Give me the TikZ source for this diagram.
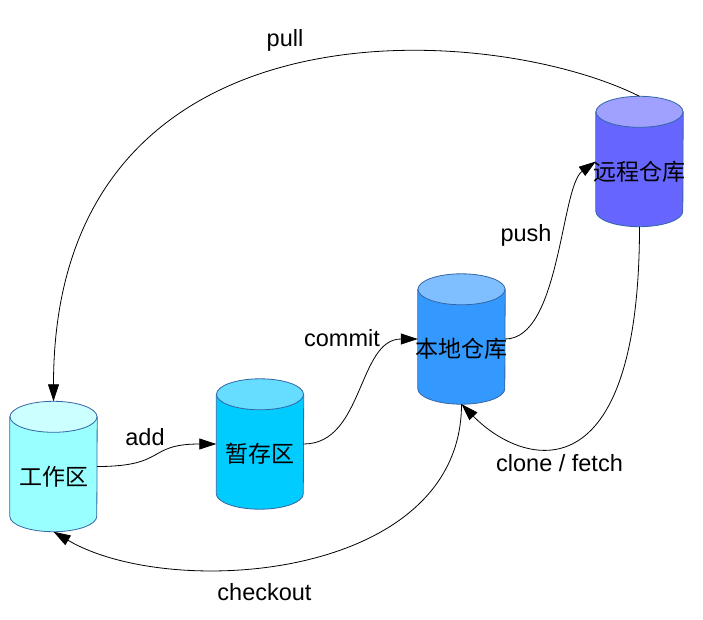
\documentclass[tikz,border=0pt]{standalone}
\usepackage{fontspec}
\setmainfont{Liberation Sans}
\newfontfamily\cjk{Noto Sans CJK SC}
\usepackage{tikz}
\usetikzlibrary{backgrounds,arrows.meta}
\definecolor{rimblue}{HTML}{3465A4}
\definecolor{workbody}{HTML}{99FFFF}
\definecolor{worktop}{HTML}{CCFFFF}
\definecolor{stagebody}{HTML}{00CCFF}
\definecolor{stagetop}{HTML}{66DDFF}
\definecolor{localbody}{HTML}{3399FF}
\definecolor{localtop}{HTML}{80BFFF}
\definecolor{remotebody}{HTML}{6666FF}
\definecolor{remotetop}{HTML}{A0A0FF}
\newcommand{\repofont}{\cjk\fontsize{23}{28}\selectfont}
\newcommand{\repodrum}[3]{%
    \filldraw[fill=#2,draw=rimblue,line width=0.8pt]
        ([yshift=-15.5pt]#1.north west) -- ([yshift=15.5pt]#1.south west)
        arc[start angle=180,end angle=360,x radius=43.5pt,y radius=15.5pt]
        -- ([yshift=-15.5pt]#1.north east) -- cycle;
    \filldraw[fill=#3,draw=rimblue,line width=0.8pt]
        ([yshift=-15.5pt]#1.north) ellipse[x radius=43.5pt,y radius=15.5pt];
}

\begin{document}
\begin{tikzpicture}[x=1pt,y=-1pt,
    repo/.style={minimum width=87pt,minimum height=130pt,inner sep=0pt},
    flow/.style={line width=0.8pt,-{Triangle[length=17pt,width=11pt]}},
    cmd/.style={anchor=base,font=\fontsize{23.5}{28}\selectfont}]
            \useasboundingbox (0,0) rectangle (703,620);

            \node[repo,label={[font=\repofont,yshift=-10pt]center:工作区}] (work) at (53.5,466.5) {};
            \node[repo,label={[font=\repofont,yshift=-10pt]center:暂存区}] (stage) at (260,444) {};
            \node[repo,label={[font=\repofont,yshift=-10pt]center:本地仓库}] (local) at (461.5,339) {};
            \node[repo,label={[font=\repofont,yshift=-10pt]center:远程仓库}] (remote) at (639.5,161.5) {};

            \draw[flow] (work.east) .. controls +(70,0) and +(-70,0) .. (stage.west);
            \draw[flow] (stage.east) .. controls +(60,0) and +(-60,0) .. (local.west);
            \draw[flow] (local.east) .. controls +(55,0) and +(-35,25) .. (remote.west);
            \draw[flow] (remote.north) .. controls +(-150,-75) and +(0,-410) .. (work.north);
            \draw[flow] (remote.south) .. controls +(0,270) and +(63,64) .. (local.south);
            \draw[flow] (local.south) .. controls +(0,176) and +(117,69) .. (work.south);

            % Labels
            \node[cmd] (pull) at (285,47) {pull};
            \node[cmd] (add) at (145,445) {add};
            \node[cmd] (commit) at (342,346) {commit};
            \node[cmd] (push) at (526,241) {push};
            \node[cmd] (fetch) at (559.5,471) {clone / fetch};
            \node[cmd] (checkout) at (264.5,600) {checkout};

            % Background
            \begin{scope}[on background layer]
                \repodrum{work}{workbody}{worktop}
                \repodrum{stage}{stagebody}{stagetop}
                \repodrum{local}{localbody}{localtop}
                \repodrum{remote}{remotebody}{remotetop}
            \end{scope}
\end{tikzpicture}
\end{document}
